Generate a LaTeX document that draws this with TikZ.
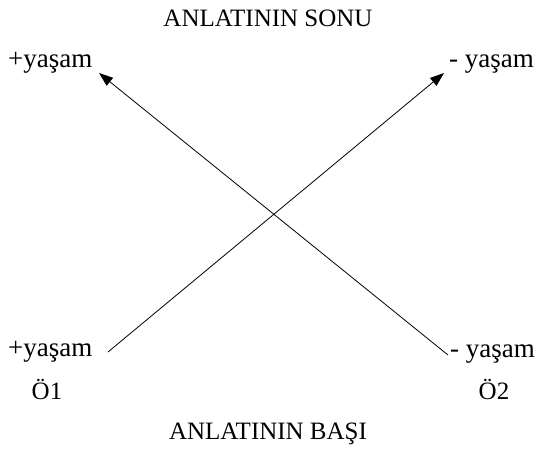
\documentclass[tikz,border=0pt]{standalone}
\usepackage{fontspec}
\setmainfont{Liberation Serif}
\usetikzlibrary{arrows.meta}
\begin{document}
\begin{tikzpicture}[x=1pt,y=1pt,
  lbl/.style={inner sep=0pt,font=\fontsize{25}{28}\selectfont},
  ylbl/.style={inner sep=0pt,font=\fontsize{27}{30}\selectfont},
  conn/.style={line width=0.8pt,-{Triangle[length=14pt,width=10pt]}}]
\useasboundingbox (0,0) rectangle (536,450);
\node[lbl,anchor=base] (sonu) at (268,423) {ANLATININ SONU};
\node[ylbl,anchor=base west] (tl) at (8,382) {+yaşam};
\node[ylbl,anchor=base east] (tr) at (534,382) {- yaşam};
\node[ylbl,anchor=base west] (bl) at (8,93) {+yaşam};
\node[ylbl,anchor=base east] (br) at (535,92) {- yaşam};
\node[lbl,anchor=base] (o1) at (47,50) {Ö1};
\node[lbl,anchor=base] (o2) at (494,50) {Ö2};
\node[lbl,anchor=base] (basi) at (268,10) {ANLATININ BAŞI};
\coordinate (a1) at (108,98);
\coordinate (a2) at (444,377);
\coordinate (b1) at (448,95);
\coordinate (b2) at (99,377);
\draw[conn] (a1) -- (a2);
\draw[conn] (b1) -- (b2);
\end{tikzpicture}
\end{document}
